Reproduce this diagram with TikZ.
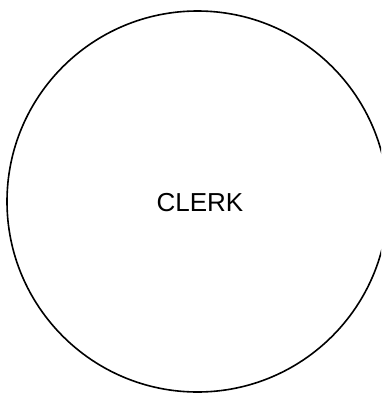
\documentclass[tikz,border=0pt]{standalone}
\usepackage{fontspec}
\setmainfont{Liberation Sans}
\begin{document}
\begin{tikzpicture}[x=1pt,y=-1pt,
  entity/.style={circle, draw=black, line width=1.6pt, minimum size=381pt, inner sep=0pt,
    font=\fontsize{26}{30}\selectfont}]
\useasboundingbox (0,0) rectangle (381,394);
\clip (0,0) rectangle (381,394);
\fill[white] (0,0) rectangle (381,394);
\node[entity] (clerk) at (197.5,201.5) {};
\node[font=\fontsize{26}{30}\selectfont, inner sep=0pt] (clerklabel) at (200,203) {CLERK};
\end{tikzpicture}
\end{document}
